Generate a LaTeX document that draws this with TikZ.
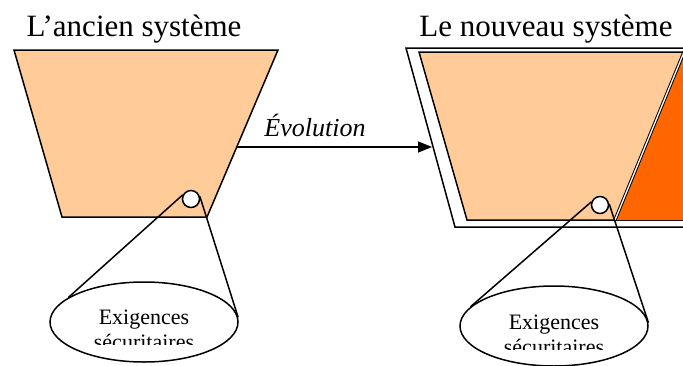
\documentclass[tikz,border=0pt]{standalone}
\usepackage{fontspec}
\setmainfont{Liberation Serif}
\usetikzlibrary{arrows.meta,shapes.geometric}
\definecolor{peach}{HTML}{FFCC99}
\definecolor{blaze}{HTML}{FF6600}

\begin{document}
\begin{tikzpicture}[x=1pt,y=-1pt,line width=1.5pt,
    sysfill/.style={draw=black, fill=peach},
    lens/.style={circle, draw, fill=white, minimum size=17pt, inner sep=0pt},
    zone/.style={ellipse, draw, fill=white, minimum width=188pt, minimum height=80pt, inner sep=0pt},
    zonetext/.style={align=center, font=\fontsize{22}{25}\selectfont, inner sep=0pt},
    title/.style={anchor=base, font=\fontsize{31}{36}\selectfont, inner sep=0pt}]
  \useasboundingbox (0,0) rectangle (683,365);
  \clip (0,0) rectangle (683,365);

  \node[title] (oldT) at (134,36) {L'ancien système};
  \node[title] (newT) at (546,36) {Le nouveau système};

  % ancien systeme
  \draw[sysfill] (14,50) -- (278,50) -- (207,217) -- (62,217) -- cycle;

  % nouveau systeme
  \draw[fill=white] (406,48) -- (700,48) -- (700,227) -- (455,227) -- cycle;
  \draw[sysfill] (419,52) -- (700,52) -- (700,220) -- (467,220) -- cycle;
  \fill[blaze] (615,220) -- (684,52) -- (700,52) -- (700,220) -- cycle;
  \draw[line width=1pt, double=white, double distance=1.3pt] (615,220) -- (684,52);

  \coordinate (evoS) at (237,147);
  \coordinate (evoE) at (432,147);
  \draw[-{Triangle[length=14pt,width=11pt]}] (evoS) -- node[pos=0.4, above=9pt, inner sep=0pt,
      font=\fontsize{26}{30}\selectfont\itshape] (evoL) {Évolution} (evoE);

  \node[lens] (lensL) at (191,199) {};
  \node[zone] (zoneL) at (144,322) {};
  \begin{scope}
    \clip (40,280) rectangle (250,344);
    \node[zonetext] (reqL) at (144,330) {Exigences\\sécuritaires};
  \end{scope}
  \draw (lensL.153) -- (zoneL.162);
  \draw (lensL.16) -- (zoneL.3);

  \node[lens] (lensR) at (600,205) {};
  \node[zone] (zoneR) at (554,326) {};
  \begin{scope}
    \clip (450,285) rectangle (660,349);
    \node[zonetext] (reqR) at (554,335) {Exigences\\sécuritaires};
  \end{scope}
  \draw (lensR.160) -- (zoneR.167);
  \draw (lensR.7) -- (zoneR.2);
\end{tikzpicture}
\end{document}
